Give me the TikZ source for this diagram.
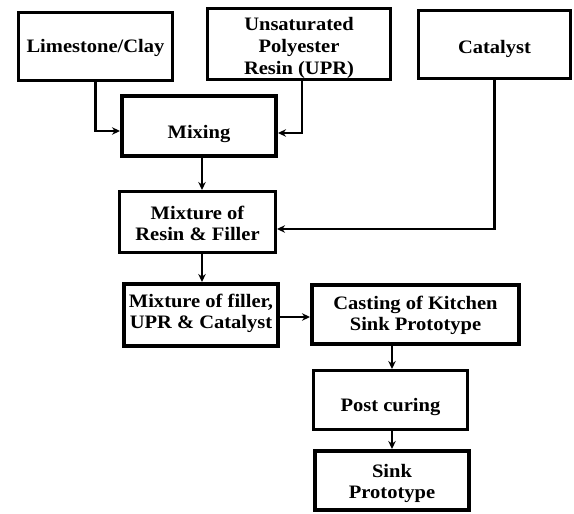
\documentclass[tikz,border=0pt]{standalone}
\usepackage{fontspec}
\setmainfont{Liberation Serif}[FakeStretch=1.08]
\usetikzlibrary{arrows.meta}
\begin{document}
\begin{tikzpicture}[x=1pt,y=-1pt,
  txt/.style={align=center, inner sep=0pt, font=\bfseries\fontsize{19}{21.7}\selectfont},
  box/.style={draw, line width=3.3pt, txt},
  thickbox/.style={box, line width=4pt},
  conn/.style={line width=2.4pt, -{Stealth[length=8pt,width=7.5pt]}}]
\useasboundingbox[fill=white] (0,0) rectangle (574,514);
\node[box, minimum width=153.7pt, minimum height=67.7pt,
  label={[txt,yshift=-1.5pt]center:Limestone/Clay}] (lime) at (95.5,46.5) {};
\node[box, minimum width=182.7pt, minimum height=70.7pt,
  label={[txt,yshift=-4pt]center:{Unsaturated\\Polyester\\Resin (UPR)}}] (upr) at (299,44) {};
\node[box, minimum width=151.7pt, minimum height=67.7pt,
  label={[txt,yshift=-4.5pt]center:Catalyst}] (cat) at (494.5,44.5) {};
\node[thickbox, minimum width=154pt, minimum height=60pt,
  label={[txt,yshift=-8pt]center:Mixing}] (mixing) at (199,126) {};
\node[box, minimum width=155.7pt, minimum height=60.7pt,
  label={[txt,yshift=-1.5pt]center:{Mixture of\\Resin \& Filler}}] (mixres) at (197.5,222) {};
\node[thickbox, minimum width=154pt, minimum height=62pt,
  label={[txt,yshift=1.5pt]center:{Mixture of filler,\\UPR \& Catalyst}}] (mixfil) at (201,315) {};
\node[thickbox, minimum width=207pt, minimum height=59pt,
  label={[txt,yshift=-1pt]center:{Casting of Kitchen\\Sink Prototype}}] (cast) at (415.5,314.5) {};
\node[box, minimum width=153.7pt, minimum height=58.7pt,
  label={[txt,yshift=-7pt]center:Post curing}] (post) at (390.5,400) {};
\node[thickbox, minimum width=154pt, minimum height=59pt,
  label={[txt,yshift=-3pt]center:{Sink\\Prototype}}] (sink) at (392,480.5) {};

\draw[conn] (lime.south) |- ([yshift=-5pt]mixing.west);
\draw[conn] ([xshift=3pt]upr.south) |- ([yshift=-7pt]mixing.east);
\draw[conn] ([xshift=3pt]mixing.south) -- ([xshift=3pt]mixing.south |- mixres.north);
\draw[conn] (cat.south) |- ([yshift=-7pt]mixres.east);
\draw[conn] ([xshift=4.5pt]mixres.south) -- ([xshift=4.5pt]mixres.south |- mixfil.north);
\draw[conn] ([yshift=-2pt]mixfil.east) -- ([yshift=-2pt]mixfil.east -| cast.west);
\draw[conn] ([xshift=1.5pt]post.north |- cast.south) -- ([xshift=1.5pt]post.north);
\draw[conn] (sink.north |- post.south) -- (sink.north);
\end{tikzpicture}
\end{document}
